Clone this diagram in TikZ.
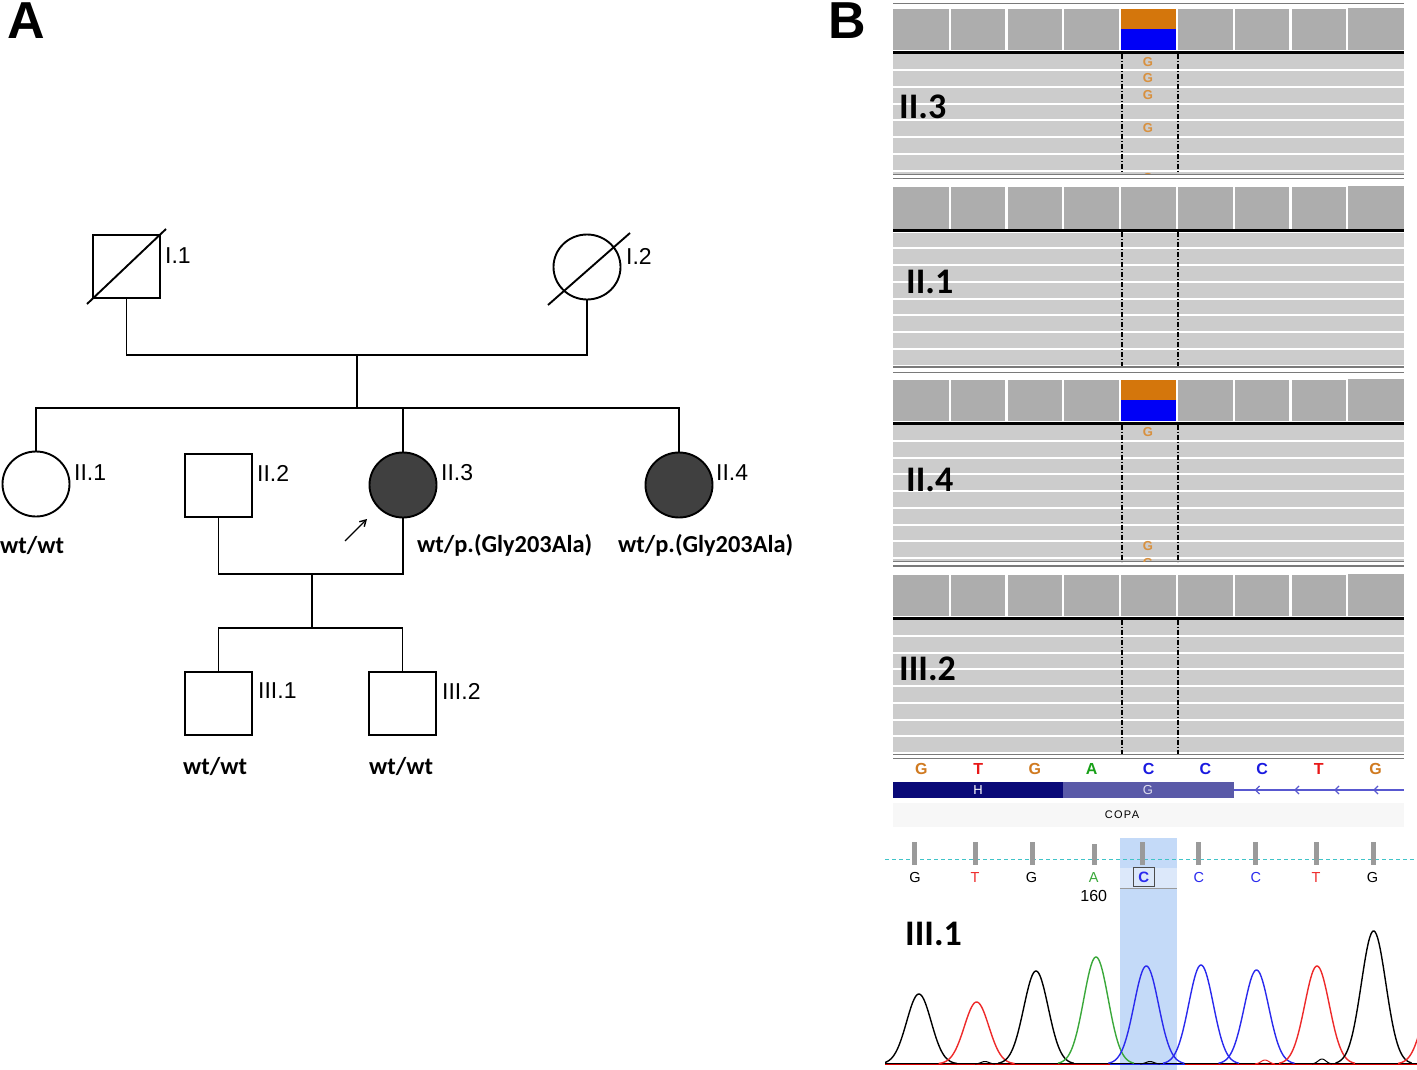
\documentclass[tikz,border=0pt]{standalone}
\usepackage{fontspec}
\setmainfont{Carlito}
\newfontfamily\arial{Liberation Sans}
\usetikzlibrary{shapes.geometric,arrows.meta,calc}
\definecolor{affgray}{HTML}{404040}
\definecolor{covgray}{HTML}{ADADAD}
\definecolor{readgray}{HTML}{CCCCCC}
\definecolor{sepgray}{HTML}{7A7A7A}
\definecolor{varorange}{HTML}{D4760C}
\definecolor{varblue}{HTML}{0000F6}
\definecolor{readG}{HTML}{D8903E}
\definecolor{seqG}{HTML}{D07A20}
\definecolor{seqT}{HTML}{E81818}
\definecolor{seqA}{HTML}{18A018}
\definecolor{seqC}{HTML}{1A1AE0}
\definecolor{navy}{HTML}{0A0A78}
\definecolor{midnavy}{HTML}{5A5AA8}
\definecolor{geneline}{HTML}{5858D0}
\definecolor{hilite}{HTML}{C4DAF8}
\definecolor{hilite2}{HTML}{DCE8FA}
\definecolor{tickgray}{HTML}{9A9A9A}
\definecolor{cyanl}{HTML}{40C4C8}
\definecolor{chT}{HTML}{EE2A2A}
\definecolor{chA}{HTML}{3AA83A}
\definecolor{chC}{HTML}{2A2AEE}
\tikzset{
  male/.style={draw, line width=2pt, rectangle, minimum width=67pt, minimum height=63pt, inner sep=0pt},
  female/.style={draw, line width=1.9pt, ellipse, minimum width=67pt, minimum height=65pt, inner sep=0pt},
  affected/.style={fill=affgray},
  plabel/.style={font=\arial\fontsize{23}{25}\selectfont, anchor=west, inner sep=0pt},
  geno/.style={font=\bfseries\fontsize{24.4}{28}\selectfont, anchor=west, inner sep=0pt},
  pline/.style={line width=1.9pt},
  panel/.style={font=\arial\bfseries\fontsize{52}{56}\selectfont, anchor=north west, inner sep=0pt},
  blab/.style={font=\bfseries\fontsize{36}{40}\selectfont, anchor=west, inner sep=0pt},
  readlet/.style={font=\arial\bfseries\fontsize{13}{14}\selectfont, text=readG, inner sep=0pt},
  seqlet/.style={font=\arial\bfseries\fontsize{16}{18}\selectfont, inner sep=0pt},
  chlet/.style={font=\arial\fontsize{14.5}{16}\selectfont, inner sep=0pt},
  dashpat/.style={black, line width=1.4pt, dash pattern=on 5pt off 2pt on 1pt off 2pt},
  sepline/.style={sepgray, line width=1.6pt},
}
\newcommand{\igvtrack}[2]{%
  \fill[covgray] (893,#1) rectangle (1404,#1+41);
  \fill[covgray] (1348,#1-1.5) rectangle (1404,#1);
}
\newcommand{\igvsep}[1]{%
  \foreach \i in {1,...,8} \draw[white, line width=2.2pt] ({893+\i*56.78},#1-2) -- ({893+\i*56.78},#1+41);
}
\newcommand{\igvreads}[2]{%
  \fill[readgray] (893,#1+45) rectangle (1404,#2);
  \draw[black, line width=2.6pt] (893,#1+43.2) -- (1404,#1+43.2);
  \foreach \k in {1,...,8} {\pgfmathsetmacro\yy{#1+45+\k*16.75-1}
     \ifdim \yy pt < #2pt \draw[white,line width=2pt] (893,\yy) -- (1404,\yy); \fi}
  \draw[dashpat] (1122,#1+44.5) -- (1122,#2);
  \draw[dashpat] (1178,#1+44.5) -- (1178,#2);
}
\begin{document}
\begin{tikzpicture}[x=1pt,y=-1pt]
\useasboundingbox (0,0) rectangle (1417,1070);
\fill[white] (0,0) rectangle (1417,1070);

% ---------- Panel A ----------
\node[panel] (pA) at (7,3) {A};
\node[panel] (pB) at (828,3) {B};

\node[male] (I1) at (126.5,266.5) {};
\draw[pline] ($(I1.south west)+(-5,5)$) -- ($(I1.north east)+(5,-5)$);
\node[female] (I2) at (587,267) {};
\draw[pline] ($(I2)+(-39,38)$) -- ($(I2)+(43,-34)$);
\node[plabel] (lI1) at (165,256) {I.1};
\node[plabel] (lI2) at (626,256) {I.2};

\node[female] (II1) at (36,484) {};
\node[male] (II2) at (218.5,485.5) {};
\node[female, affected] (II3) at (403,485) {};
\node[female, affected] (II4) at (679,485) {};
\node[plabel] (lII1) at (74,473) {II.1};
\node[plabel] (lII2) at (257,473) {II.2};
\node[plabel] (lII3) at (441,473) {II.3};
\node[plabel] (lII4) at (716,473) {II.4};

\node[male] (III1) at (218.5,703.5) {};
\node[male] (III2) at (402.5,703.5) {};
\node[plabel] (lIII1) at (258,691) {III.1};
\node[plabel] (lIII2) at (442,691) {III.2};

\coordinate (m1) at (357,355);
\coordinate (s1) at (357,408);
\draw[pline] (I1.south) |- (m1) -| (I2.south);
\draw[pline] (m1) -- (s1);
\draw[pline] (II1.north) |- (s1) -| (II4.north);
\draw[pline] (II3.north) -- (II3.north |- s1);

\coordinate (m2) at (312,574);
\coordinate (s2) at (312,628);
\draw[pline] (II2.south) |- (m2) -| (II3.south);
\draw[pline] (m2) -- (s2);
\draw[pline] (III1.north) |- (s2) -| (III2.north);

\coordinate (arA) at (345,541);
\coordinate (arB) at (367,519);
\draw[line width=1.4pt, -{Straight Barb[length=6pt,width=7pt]}] (arA) -- (arB);

\node[geno] (gII1) at (0,545) {wt/wt};
\node[geno] (gII3) at (417,545) {wt/p.(Gly203Ala)};
\node[geno] (gII4) at (618,545) {wt/p.(Gly203Ala)};
\node[geno] (gIII1) at (183,766) {wt/wt};
\node[geno] (gIII2) at (369,766) {wt/wt};

% ---------- Panel B: IGV tracks ----------
% track 1 (II.3)
\igvtrack{9.5}{176}
\fill[varorange] (1120.6,9.5) rectangle (1176.4,29.5);
\fill[varblue] (1120.6,29.5) rectangle (1176.4,50.5);
\igvsep{9.5}
\igvreads{9.5}{174.5}
% track 2 (II.1)
\igvtrack{187.5}{367}
\igvsep{187.5}
\igvreads{187.5}{367}
% track 3 (II.4)
\igvtrack{380}{561}
\fill[varorange] (1120.6,380) rectangle (1176.4,400);
\fill[varblue] (1120.6,400) rectangle (1176.4,421);
\igvsep{380}
\igvreads{380}{561.5}
% track 4 (III.2)
\igvtrack{575}{754}
\igvsep{575}
\igvreads{575}{754.5}

\foreach \yy in {3.5,174.5,178.5,367,372.5,561.5,566,754.5,758.5}
  \draw[sepline] (893,\yy) -- (1404,\yy);

% read letters
\node[readlet] (r1) at (1148,62.5) {G};
\node[readlet] (r2) at (1148,78.5) {G};
\node[readlet] (r3) at (1148,95) {G};
\node[readlet] (r4) at (1148,128) {G};
\node[readlet] (r6) at (1148,432) {G};
\node[readlet] (r7) at (1148,546) {G};
\begin{scope}
  \clip (1120,170) rectangle (1180,174);
  \node[readlet] (r5) at (1148,178) {G};
\end{scope}
\begin{scope}
  \clip (1120,556) rectangle (1180,561);
  \node[readlet] (r8) at (1148,563) {G};
\end{scope}

\node[blab] (b1) at (899,107) {II.3};
\node[blab] (b2) at (906,282) {II.1};
\node[blab] (b3) at (906,480) {II.4};
\node[blab] (b4) at (899,669) {III.2};

% reference sequence
\foreach \b/\c [count=\i from 0] in {G/seqG,T/seqT,G/seqG,A/seqA,C/seqC,C/seqC,C/seqC,T/seqT,G/seqG}
  \node[seqlet, text=\c] (sq\i) at ({921.4+\i*56.78},769) {\b};

% gene track
\fill[navy] (893,782) rectangle (1063.3,798);
\fill[midnavy] (1063.3,782) rectangle (1233.7,798);
\node[font=\arial\fontsize{13}{14}\selectfont, text=white, inner sep=0pt] (gH) at (978,790) {H};
\node[font=\arial\fontsize{13}{14}\selectfont, text=white!80!midnavy, inner sep=0pt] (gG) at (1148,790) {G};
\draw[geneline, line width=1.3pt] (1233.7,790) -- (1404,790);
\foreach \xx in {1256.5,1296,1336,1375}
  \draw[geneline, line width=1.3pt] (\xx+3,786) -- (\xx-1,790) -- (\xx+3,794);
\fill[black!3] (893,803) rectangle (1404,827);
\node[font=\arial\addfontfeature{LetterSpace=12}\fontsize{11}{12}\selectfont, inner sep=0pt] (copa) at (1122,815) {COPA};

% ---------- Chromatogram ----------
\fill[hilite] (1119.8,838) rectangle (1176.8,1070);
\fill[hilite2] (1119.8,868) rectangle (1176.8,888);
\draw[tickgray, line width=1pt] (1119.8,888.4) -- (1176.8,888.4);
\draw[cyanl, line width=1.3pt, dash pattern=on 4pt off 3pt] (885,859.5) -- (1417,859.5);
\foreach \xx/\tt in {914.9/841.9, 975.9/841.9, 1032.6/841.9, 1094.7/843.5, 1142.9/841.9, 1198.9/841.9, 1255.9/841.9, 1316.6/841.9, 1373.6/841.9}
  \fill[tickgray] (\xx-2.5,\tt) rectangle (\xx+2.5,865);

\node[chlet, text=black] (c1) at (914.9,878) {G};
\node[chlet, text=chT] (c2) at (975,878) {T};
\node[chlet, text=black] (c3) at (1031.6,878) {G};
\node[chlet, text=chA] (c4) at (1093.7,878) {A};
\node[draw=black!70, line width=1.3pt, minimum width=21pt, minimum height=19pt, inner sep=0pt, text=chC, font=\arial\bfseries\fontsize{15}{16}\selectfont] (c5) at (1143.8,877) {C};
\node[chlet, text=chC] (c6) at (1198.9,878) {C};
\node[chlet, text=chC] (c7) at (1255.9,878) {C};
\node[chlet, text=chT] (c8) at (1316,878) {T};
\node[chlet, text=black] (c9) at (1372.6,878) {G};
\node[font=\arial\fontsize{16}{18}\selectfont, inner sep=0pt] (n160) at (1093.7,896) {160};

\node[blab] (b5) at (905,934) {III.1};

\begin{scope}
  \clip (885,830) rectangle (1417,1070);
  \draw[red!85!black, line width=1.1pt] (885,1064.6) -- (1417,1064.6);
  \draw[black, line width=1pt] (885,1063.6) -- (1417,1063.6);
  \draw[chC, line width=1pt] (1110,1064) -- (1185,1064);
  \foreach \cc/\hh/\col in {918.9/70/black, 976.6/62/chT, 1036/93/black, 1096/107/chA, 1146.3/98/chC, 1201/99/chC, 1256.5/94/chC, 1317/98/chT, 1373.6/133/black, 1436/80/chT}
    \draw[\col, line width=1.4pt] plot[domain={\cc-38}:{\cc+38}, samples=70, smooth] (\x,{1064-\hh*exp(-((\x-\cc)^2)/300)});
  \foreach \cc/\hh/\col in {985/2.5/black, 1150/2.5/black, 1265/4/chT, 1322/5/black}
    \draw[\col, line width=1pt] plot[domain={\cc-10}:{\cc+10}, samples=20, smooth] (\x,{1064-\hh*exp(-((\x-\cc)^2)/30)});
\end{scope}
\end{tikzpicture}
\end{document}
